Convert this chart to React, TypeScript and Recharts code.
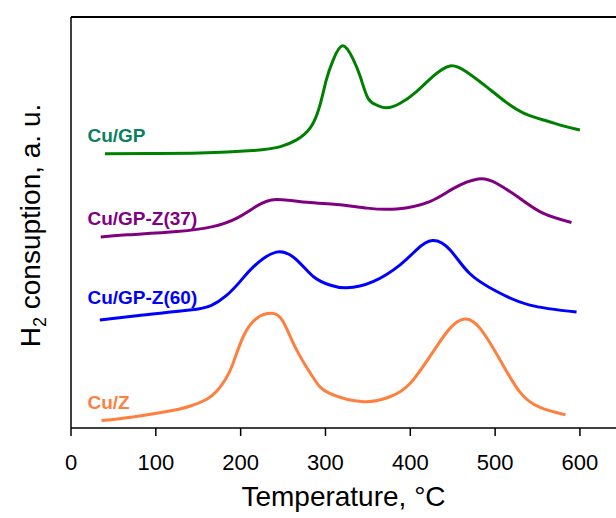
import React from 'react';
import {
    LineChart,
    Line,
    XAxis,
    YAxis,
    ReferenceDot,
    ReferenceLine,
    Label,
} from 'recharts';

// Temperatures (°C) and H2 signal (a.u., 0-100)
const gpTemp = [40, 93, 152, 214, 246, 266, 282, 293, 301, 309, 320, 332, 341, 350, 360, 372, 388, 407, 427, 447, 466, 490, 514, 537, 561, 580, 600];
const gpSignal = [66.7, 66.8, 66.9, 67.5, 68.4, 70.1, 73.0, 78.2, 84.7, 89.5, 93.0, 90.0, 85.5, 80.3, 78.6, 77.9, 79.0, 81.8, 85.6, 88.1, 86.7, 83.0, 79.1, 76.3, 74.7, 73.5, 72.5];

const gpz37Temp = [35, 66, 125, 167, 195, 219, 242, 278, 313, 349, 384, 423, 451, 480, 502, 529, 557, 590];
const gpz37Signal = [46.5, 47.0, 47.8, 49.0, 51.0, 54.0, 55.6, 54.9, 54.4, 53.5, 53.3, 55.1, 58.3, 60.6, 59.5, 55.9, 52.2, 50.0];

const gpz60Temp = [34, 85, 140, 165, 183, 200, 215, 242, 266, 286, 305, 325, 356, 388, 407, 426, 447, 470, 502, 541, 596];
const gpz60Signal = [26.3, 27.5, 28.7, 29.8, 32.2, 35.8, 39.2, 42.8, 40.9, 36.8, 34.8, 34.1, 35.6, 39.7, 43.3, 45.6, 43.3, 37.6, 33.2, 29.9, 28.2];

const zTemp = [36, 73, 113, 140, 160, 172, 182, 191, 203, 219, 237, 250, 266, 286, 305, 345, 376, 400, 427, 447, 464, 482, 506, 529, 553, 583];
const zSignal = [1.8, 2.7, 4.0, 5.3, 7.0, 9.0, 11.8, 15.7, 22.2, 26.7, 27.9, 25.9, 19.0, 12.1, 8.4, 6.4, 7.6, 10.9, 18.6, 24.3, 26.5, 24.3, 16.5, 8.8, 5.0, 3.2];

const xTicks = [0, 100, 200, 300, 400, 500, 600];

const seriesNames = ['Cu/GP', 'Cu/GP-Z(37)', 'Cu/GP-Z(60)', 'Cu/Z'];
const lineColors = ['#008000', '#800080', '#0000ff', '#ff7f3f'];
const labelColors = ['#0a8060', '#800080', '#0000ff', '#ff7f3f'];
const labelTemp = [20.6, 20.6, 20.6, 20.6];
const labelSignal = [71.2, 50.9, 31.8, 6.2];

const toPoints = (t: number[], s: number[]) => t.map((x, i) => ({ t: x, v: s[i] }));

const seriesData = [
    toPoints(gpTemp, gpSignal),
    toPoints(gpz37Temp, gpz37Signal),
    toPoints(gpz60Temp, gpz60Signal),
    toPoints(zTemp, zSignal),
];

const FONT = '"Liberation Sans", Arial, sans-serif';

const seriesLabel = (text: string, color: string) => (props: any) => {
    const vb = props.viewBox || {};
    return (
        <text
            x={vb.x}
            y={vb.y + (vb.height || 0) / 2}
            dominantBaseline="central"
            textAnchor="start"
            fill={color}
            fontSize={19}
            fontWeight="bold"
            fontFamily={FONT}
        >
            {text}
        </text>
    );
};

const yAxisLabel = (props: any) => {
    const vb = props.viewBox || { x: 0, y: 0, width: 0, height: 0 };
    const cx = vb.x + 40;
    const cy = vb.y + vb.height / 2 + 3;
    return (
        <text
            transform={`translate(${cx}, ${cy}) rotate(-90)`}
            textAnchor="middle"
            fontSize={28}
            fontFamily={FONT}
            fill="#000"
        >
            H<tspan fontSize={18} dy={6}>2</tspan>
            <tspan dy={-6}> consuption, a. u.</tspan>
        </text>
    );
};

const xAxisLabel = (props: any) => {
    const vb = props.viewBox || { x: 0, y: 0, width: 0, height: 0 };
    return (
        <text
            x={vb.x + vb.width / 2}
            y={vb.y + 78}
            textAnchor="middle"
            fontSize={28}
            fontFamily={FONT}
            fill="#000"
        >
            Temperature, °C
        </text>
    );
};

const App: React.FC = () => {
    return (
        <div style={{ width: 616, height: 518, overflow: 'hidden' }}>
            <style>{'body { margin: 0; }'}</style>
            <LineChart
                width={616}
                height={518}
                margin={{ top: 17, right: 0, bottom: 0, left: 0 }}
            >
                <XAxis
                    xAxisId="bottom"
                    type="number"
                    dataKey="t"
                    domain={[0, 642.5]}
                    ticks={xTicks}
                    allowDataOverflow
                    height={90}
                    tickSize={8}
                    tickMargin={18}
                    stroke="#000"
                    strokeWidth={1.5}
                    tick={{ fill: '#000', fontSize: 22, fontFamily: FONT }}
                >
                    <Label content={xAxisLabel} />
                </XAxis>
                <YAxis
                    type="number"
                    domain={[0, 100]}
                    allowDataOverflow
                    width={71}
                    tick={false}
                    tickLine={false}
                    stroke="#000"
                    strokeWidth={1.5}
                >
                    <Label content={yAxisLabel} />
                </YAxis>
                <ReferenceLine
                    xAxisId="bottom"
                    y={100}
                    stroke="#000"
                    strokeWidth={2}
                    ifOverflow="visible"
                />
                {seriesData.map((pts, i) => (
                    <Line
                        key={seriesNames[i]}
                        xAxisId="bottom"
                        data={pts}
                        dataKey="v"
                        type="natural"
                        stroke={lineColors[i]}
                        strokeWidth={3}
                        dot={false}
                        activeDot={false}
                        isAnimationActive={false}
                    />
                ))}
                {seriesNames.map((name, i) => (
                    <ReferenceDot
                        key={`lbl-${name}`}
                        xAxisId="bottom"
                        x={labelTemp[i]}
                        y={labelSignal[i]}
                        r={1}
                        fill="none"
                        stroke="none"
                        label={seriesLabel(name, labelColors[i])}
                    />
                ))}
            </LineChart>
        </div>
    );
};

export default App;
